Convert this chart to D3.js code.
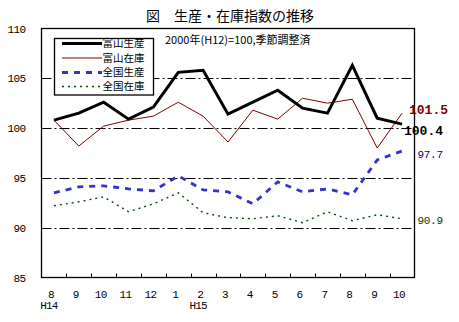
<!DOCTYPE html>
<html>
<head>
<meta charset="utf-8">
<script src="https://cdn.jsdelivr.net/npm/d3@7/dist/d3.min.js"></script>
<style>
  html, body { margin: 0; padding: 0; background: #fff; }
  svg { display: block; }
  .jp { font-family: "Noto Sans CJK JP", sans-serif; }
  .num { font-family: "Liberation Mono", "DejaVu Sans Mono", monospace; }
</style>
</head>
<body>
<svg id="chart" width="459" height="322"></svg>
<script>
// Months from H14/8 to H15/10
const months = ["8", "9", "10", "11", "12", "1", "2", "3", "4", "5", "6", "7", "8", "9", "10"];
const eraLabels = [{ index: 0, text: "H14" }, { index: 6, text: "H15" }];
const yTicks = [85, 90, 95, 100, 105, 110];
const gridValues = [90, 95, 100, 105];

const toyamaProduction = [100.8, 101.5, 102.6, 100.9, 102.1, 105.6, 105.8, 101.4, 102.6, 103.8, 102.0, 101.5, 106.3, 101.0, 100.4];
const toyamaInventory  = [100.8, 98.2, 100.2, 100.8, 101.2, 102.6, 101.2, 98.6, 101.8, 100.9, 103.0, 102.5, 102.9, 98.0, 101.5];
const nationalProduction = [93.5, 94.1, 94.2, 93.9, 93.7, 95.2, 93.8, 93.6, 92.4, 94.6, 93.6, 93.9, 93.3, 96.8, 97.7];
const nationalInventory  = [92.2, 92.6, 93.1, 91.6, 92.4, 93.5, 91.5, 91.0, 90.9, 91.2, 90.5, 91.6, 90.7, 91.3, 90.9];

const seriesNames = ["富山生産", "富山在庫", "全国生産", "全国在庫"];

const svg = d3.select("#chart");
const plot = { left: 41.5, right: 414.5, top: 28.5, bottom: 277.5 };

const x = d3.scaleBand().domain(d3.range(months.length)).range([plot.left, plot.right]);
const cx = i => x(i) + x.bandwidth() / 2;
const y = d3.scaleLinear().domain([85, 110]).range([plot.bottom, plot.top]);

const series = [
  { name: seriesNames[0], values: toyamaProduction, color: "#000000", width: 3, dash: null },
  { name: seriesNames[1], values: toyamaInventory, color: "#800000", width: 1, dash: null },
  { name: seriesNames[2], values: nationalProduction, color: "#3333cc", width: 2.8, dash: "6,6" },
  { name: seriesNames[3], values: nationalInventory, color: "#005000", width: 1.4, dash: "2,4" }
];

// Title and base note
svg.append("text").attr("class", "jp")
  .attr("x", 146).attr("y", 21).attr("font-size", 14).attr("fill", "#000")
  .text("図　生産・在庫指数の推移");
svg.append("text").attr("class", "jp")
  .attr("x", 165).attr("y", 44).attr("font-size", 11).attr("fill", "#000")
  .text("2000年(H12)=100,季節調整済");

// Dash-dot gridlines
svg.append("g").selectAll("line").data(gridValues).join("line")
  .attr("x1", plot.left).attr("x2", plot.right)
  .attr("y1", d => Math.round(y(d)) + 0.5).attr("y2", d => Math.round(y(d)) + 0.5)
  .attr("stroke", "#000").attr("stroke-width", 1)
  .attr("stroke-dasharray", "10,3,2,3");

// Frame
svg.append("rect")
  .attr("x", plot.left).attr("y", plot.top)
  .attr("width", plot.right - plot.left).attr("height", plot.bottom - plot.top)
  .attr("fill", "none").attr("stroke", "#000").attr("stroke-width", 1.3);

// Y axis labels
const yAxis = d3.axisLeft(y).tickValues(yTicks).tickSize(0).tickPadding(0).tickFormat(d3.format("d"));
const gy = svg.append("g").attr("transform", `translate(${plot.left - 16},0)`).call(yAxis);
gy.select(".domain").remove();
gy.selectAll("text").attr("class", "num").attr("font-size", 11).attr("fill", "#000")
  .attr("letter-spacing", "-0.6").attr("font-family", null);

// X axis: inner tick marks at month boundaries, labels below
const boundaries = d3.range(1, months.length).map(i => x(i));
svg.append("g").selectAll("line").data(boundaries).join("line")
  .attr("x1", d => Math.round(d) + 0.5).attr("x2", d => Math.round(d) + 0.5)
  .attr("y1", plot.bottom).attr("y2", plot.bottom - 4)
  .attr("stroke", "#000").attr("stroke-width", 1);

svg.append("g").selectAll("text").data(months).join("text")
  .attr("class", "num")
  .attr("x", (d, i) => cx(i) - 3).attr("y", 298)
  .attr("text-anchor", "middle").attr("font-size", 11).attr("letter-spacing", "-0.6")
  .attr("fill", "#000").text(d => d);

svg.append("g").selectAll("text").data(eraLabels).join("text")
  .attr("class", "num")
  .attr("x", d => cx(d.index) - 5).attr("y", 308.5)
  .attr("text-anchor", "middle").attr("font-size", 11).attr("letter-spacing", "-0.8")
  .attr("fill", "#000").text(d => d.text);

// Lines
const line = d3.line().x((d, i) => cx(i)).y(d => y(d));
const drawOrder = [3, 2, 1, 0];
svg.append("g").selectAll("path").data(drawOrder.map(k => series[k])).join("path")
  .attr("d", d => line(d.values))
  .attr("fill", "none")
  .attr("stroke", d => d.color)
  .attr("stroke-width", d => d.width)
  .attr("stroke-dasharray", d => d.dash)
  .attr("stroke-linejoin", "miter");

// End-value labels
const last = months.length - 1;
const endLabels = [
  { text: toyamaInventory[last].toFixed(1), x: 409, y: 113.5, size: 13, bold: true, color: "#800000" },
  { text: toyamaProduction[last].toFixed(1), x: 404, y: 134.5, size: 13, bold: true, color: "#000000" },
  { text: nationalProduction[last].toFixed(1), x: 417.5, y: 158, size: 11, bold: false, color: "#000080" },
  { text: nationalInventory[last].toFixed(1), x: 417.5, y: 223.5, size: 11, bold: false, color: "#004000" }
];
svg.append("g").selectAll("text").data(endLabels).join("text")
  .attr("class", "num")
  .attr("x", d => d.x).attr("y", d => d.y)
  .attr("font-size", d => d.size)
  .attr("font-weight", d => d.bold ? "bold" : "normal")
  .attr("letter-spacing", d => d.bold ? "0" : "-0.3")
  .attr("fill", d => d.color)
  .text(d => d.text);

// Legend
const legend = svg.append("g");
legend.append("rect")
  .attr("x", 54.5).attr("y", 38.5).attr("width", 99).attr("height", 56.5)
  .attr("fill", "#fff").attr("stroke", "#000").attr("stroke-width", 1.3);
const rowY = [43.5, 58, 72.5, 86.5];
series.forEach((s, k) => {
  legend.append("line")
    .attr("x1", 62).attr("x2", 102).attr("y1", rowY[k]).attr("y2", rowY[k])
    .attr("stroke", s.color).attr("stroke-width", s.width)
    .attr("stroke-dasharray", s.dash);
  legend.append("text").attr("class", "jp")
    .attr("x", 102.5).attr("y", rowY[k] + 3.8).attr("font-size", 10.5).attr("fill", "#000")
    .text(s.name);
});
</script>
</body>
</html>
